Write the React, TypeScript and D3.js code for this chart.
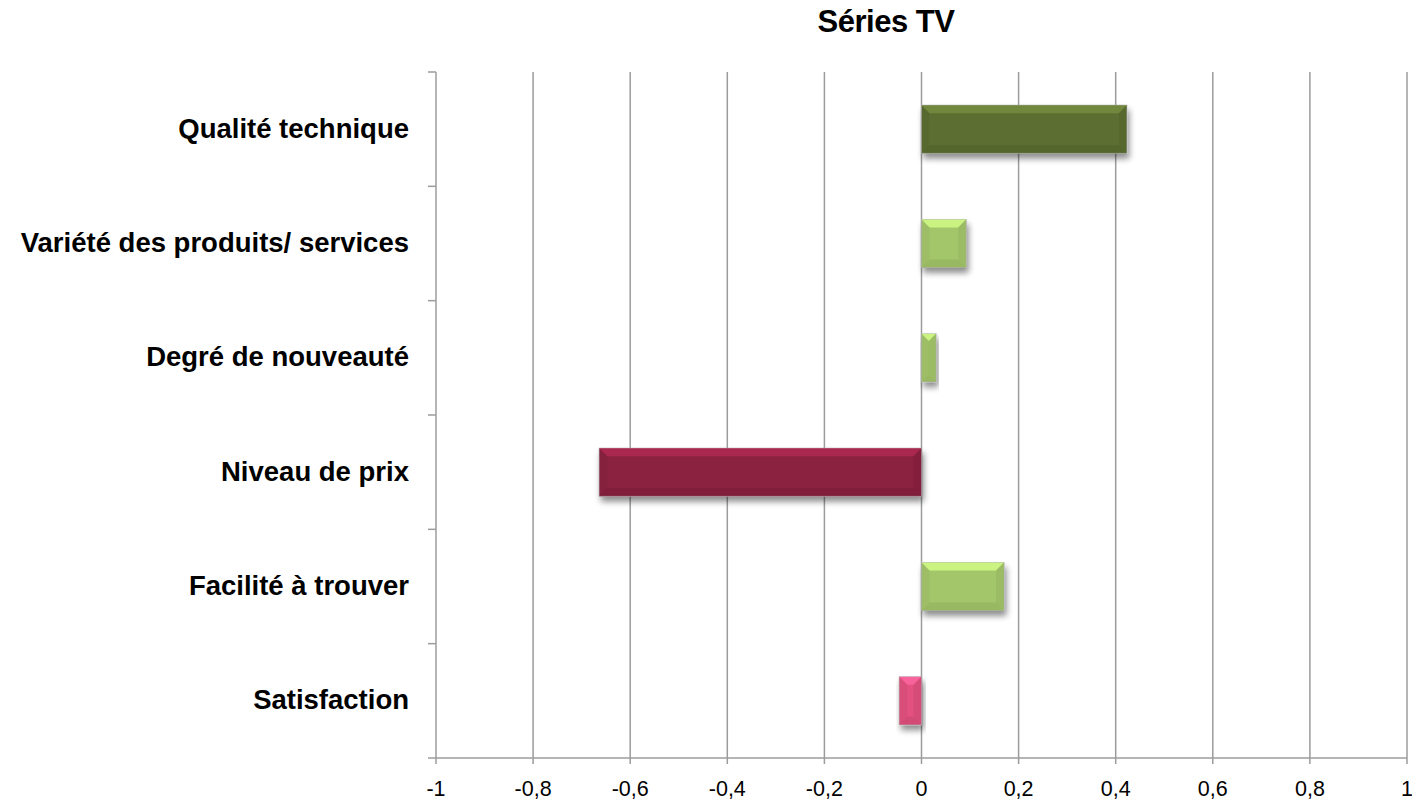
import React from "react";
import * as d3 from "d3";

const categories = [
  "Qualité technique",
  "Variété des produits/ services",
  "Degré de nouveauté",
  "Niveau de prix",
  "Facilité à trouver",
  "Satisfaction",
];
const values = [0.423, 0.092, 0.03, -0.664, 0.17, -0.046];
const barColors = ["#5b6e30", "#a4c66a", "#a4c66a", "#8a2040", "#a4c66a", "#e2517f"];
const xTicks = [-1, -0.8, -0.6, -0.4, -0.2, 0, 0.2, 0.4, 0.6, 0.8, 1];
const title = "Séries TV";

const W = 1412;
const H = 801;
const left = 436;
const right = 1407;
const top = 72;
const bottom = 758;

export default function App() {
  const x = d3.scaleLinear().domain([-1, 1]).range([left, right]);
  const y = d3.scaleBand<string>().domain(categories).range([top, bottom]).paddingInner(0.58).paddingOuter(0.29);
  const band = (bottom - top) / categories.length;
  const fmt = (v: number) => (Math.abs(v) < 1e-9 ? "0" : String(v).replace(".", ","));
  const font = "'Liberation Sans', Arial, sans-serif";
  return (
    <svg width={W} height={H} style={{ position: "absolute", left: 0, top: 0, background: "#fff" }}>
      <defs>
        <filter id="sh" x="-20%" y="-30%" width="140%" height="170%">
          <feGaussianBlur in="SourceAlpha" stdDeviation="3" />
          <feOffset dx="2" dy="5" result="b" />
          <feComponentTransfer><feFuncA type="linear" slope="0.45" /></feComponentTransfer>
          <feMerge><feMergeNode /><feMergeNode in="SourceGraphic" /></feMerge>
        </filter>
      </defs>
      <text x={886} y={32} textAnchor="middle" fontFamily={font} fontWeight="bold" fontSize={31} letterSpacing={-0.5}>{title}</text>
      {xTicks.slice(1).map((t) => (
        <line key={"g" + t} x1={x(t)} x2={x(t)} y1={top} y2={bottom} stroke="#9c9c9c" strokeWidth={1.5} />
      ))}
      <line x1={left} x2={left} y1={top} y2={bottom} stroke="#9c9c9c" strokeWidth={1.5} />
      {d3.range(categories.length + 1).map((i) => (
        <line key={"yt" + i} x1={left - 8} x2={left} y1={top + i * band} y2={top + i * band} stroke="#9c9c9c" strokeWidth={1.5} />
      ))}
      <line x1={left} x2={right} y1={bottom} y2={bottom} stroke="#9c9c9c" strokeWidth={1.5} />
      {xTicks.map((t) => (
        <g key={"xt" + t}>
          <line x1={x(t)} x2={x(t)} y1={bottom} y2={bottom + 6} stroke="#9c9c9c" strokeWidth={1.5} />
          <text x={x(t)} y={796} textAnchor="middle" fontFamily={font} fontSize={21.5} fill="#000">{fmt(t)}</text>
        </g>
      ))}
      {categories.map((c, i) => {
        const v = values[i];
        const x0 = Math.min(x(0), x(v));
        const x1 = Math.max(x(0), x(v));
        const y0 = y(c)!;
        const h = y.bandwidth();
        const w = x1 - x0;
        const b = Math.min(8, w / 2);
        const col = barColors[i];
        const light = d3.color(col)!.brighter(0.7).toString();
        const dark = d3.color(col)!.darker(0.35).toString();
        return (
          <g key={c}>
            <g filter="url(#sh)">
              <rect x={x0} y={y0} width={w} height={h} fill={col} stroke="#b0b0b0" strokeWidth={0.8} />
            </g>
            <polygon points={`${x0},${y0} ${x1},${y0} ${x1 - b},${y0 + b} ${x0 + b},${y0 + b}`} fill={light} opacity={0.8} />
            <polygon points={`${x0},${y0 + h} ${x1},${y0 + h} ${x1 - b},${y0 + h - b} ${x0 + b},${y0 + h - b}`} fill={dark} opacity={0.6} />
            <polygon points={`${x0},${y0} ${x0 + b},${y0 + b} ${x0 + b},${y0 + h - b} ${x0},${y0 + h}`} fill={dark} opacity={0.35} />
            <polygon points={`${x1},${y0} ${x1 - b},${y0 + b} ${x1 - b},${y0 + h - b} ${x1},${y0 + h}`} fill={dark} opacity={0.45} />
            <text x={409} y={top + (i + 0.5) * band + 8.5} textAnchor="end" fontFamily={font} fontWeight="bold" fontSize={27.5}>{c}</text>
          </g>
        );
      })}
    </svg>
  );
}
